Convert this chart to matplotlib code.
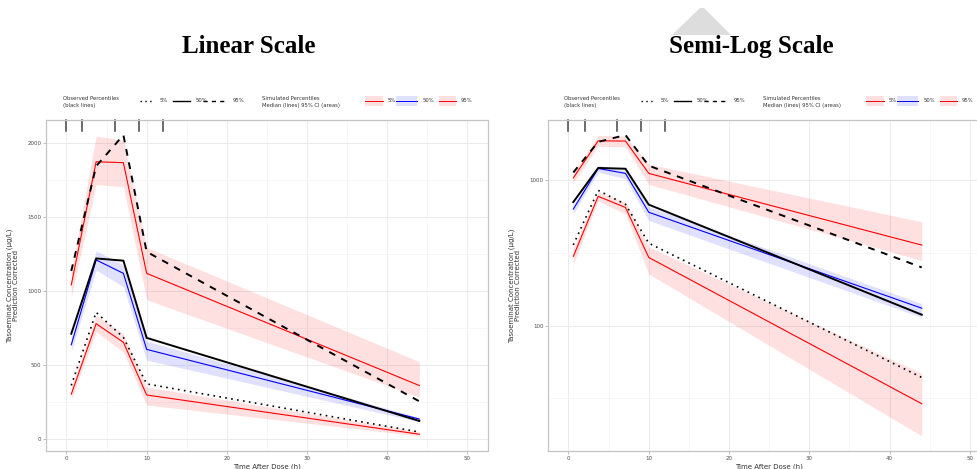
import numpy as np
import matplotlib
matplotlib.use("Agg")
import matplotlib.pyplot as plt
from matplotlib.lines import Line2D
from matplotlib.patches import Rectangle, Polygon
from matplotlib.ticker import MultipleLocator, FixedLocator, NullFormatter

# binned time points (h) and percentiles (ug/L)
time = [0.6, 3.7, 7.1, 10.0, 44.0]
bin_edges = [0, 2, 6, 9, 12]

obs_p05 = [360, 855, 685, 370, 44]
obs_p50 = [710, 1220, 1205, 682, 119]
obs_p95 = [1135, 1845, 2056, 1265, 252]

sim_p05 = [300, 778, 652, 295, 29]
sim_p05_lo = [265, 723, 587, 227, 17.4]
sim_p05_hi = [345, 836, 712, 349, 47]
sim_p50 = [635, 1210, 1119, 604, 132]
sim_p50_lo = [590, 1141, 1028, 531, 114]
sim_p50_hi = [680, 1272, 1175, 660, 142]
sim_p95 = [1040, 1875, 1869, 1119, 359]
sim_p95_lo = [960, 1720, 1706, 940, 281]
sim_p95_hi = [1125, 2048, 2022, 1295, 520]

lin_ticks = [0, 500, 1000, 1500, 2000]
log_ticks = [100, 1000]
x_ticks = [0, 10, 20, 30, 40, 50]

W, H = 978, 469
fig = plt.figure(figsize=(W / 100, H / 100), dpi=100)


def fx(x):
    return x / W


def fy(y):
    return 1 - y / H


GRID = "#EBEBEB"
FRAME = "#C4C4C4"
TXT = "#333333"


def draw_panel(ax, log=False):
    bands = [(sim_p05_lo, sim_p05_hi, "red"), (sim_p50_lo, sim_p50_hi, "blue"),
             (sim_p95_lo, sim_p95_hi, "red")]
    for lo, hi, c in bands:
        ax.fill_between(time, lo, hi, color=c, alpha=0.12, lw=0)
    ax.plot(time, sim_p05, color="red", lw=0.8)
    ax.plot(time, sim_p50, color="blue", lw=0.8)
    ax.plot(time, sim_p95, color="red", lw=0.8)
    ax.plot(time, obs_p05, color="black", lw=1.2, ls=(0, (1, 2.6)))
    ax.plot(time, obs_p50, color="black", lw=1.4)
    ax.plot(time, obs_p95, color="black", lw=1.4, ls=(0, (3.5, 3.5)))

    # rug of bin edges at the top
    trans = ax.get_xaxis_transform()
    for b in bin_edges:
        ax.plot([b, b], [1.0, 0.968], transform=trans, color="#444444", lw=1.1,
                clip_on=False)

    ax.set_xlim(-2.5, 52.5)
    lows = min(sim_p05_lo + obs_p05)
    highs = max(obs_p95 + sim_p95_hi)
    if log:
        ax.set_yscale("log")
        l0, l1 = np.log10(lows), np.log10(highs)
        pad = 0.05 * (l1 - l0)
        ax.set_ylim(10 ** (l0 - pad), 10 ** (l1 + pad))
        ax.yaxis.set_major_locator(FixedLocator(log_ticks))
        ax.yaxis.set_minor_locator(FixedLocator([10 ** 1.5, 10 ** 2.5, 10 ** 3.5]))
        ax.yaxis.set_minor_formatter(NullFormatter())
        ax.set_yticklabels([str(t) for t in log_ticks])
    else:
        pad = 0.05 * (highs - lows)
        ax.set_ylim(lows - pad, highs + pad)
        ax.yaxis.set_major_locator(FixedLocator(lin_ticks))
        ax.yaxis.set_minor_locator(MultipleLocator(250))
        ax.set_yticklabels([str(t) for t in lin_ticks])
    ax.xaxis.set_major_locator(FixedLocator(x_ticks))
    ax.xaxis.set_minor_locator(MultipleLocator(5))
    ax.set_xticklabels([str(t) for t in x_ticks])

    ax.grid(True, which="major", color=GRID, lw=0.7)
    ax.grid(True, which="minor", color="#F4F4F4", lw=0.5)
    ax.set_axisbelow(True)
    for s in ax.spines.values():
        s.set_color(FRAME)
        s.set_linewidth(0.9)
    ax.tick_params(which="major", length=2, width=0.6, color="#B3B3B3",
                   labelsize=4, labelcolor="#4D4D4D", pad=1.5)
    ax.tick_params(which="minor", length=0)
    ax.set_xlabel("Time After Dose (h)", fontsize=5, color=TXT, labelpad=2)
    ax.set_ylabel("Tasoeminat Concentration (\u00b5g/L)\nPrediction Corrected",
                  fontsize=5, color=TXT, labelpad=6, linespacing=1.1)


def draw_legend(x0, y0):
    # x0, y0 in pixels: left of "Observed Percentiles", baseline row
    kw = dict(fontsize=3.8, color=TXT, va="center", ha="left")
    fig.text(fx(x0), fy(y0 - 1.5), "Observed Percentiles", **kw)
    fig.text(fx(x0), fy(y0 + 6), "(black lines)", **kw)
    row = y0 + 1.5
    obs = [((0, (1, 2.5)), "5%", 77, 90, 97), ("-", "50%", 110, 127, 133),
           ((0, (3, 3)), "95%", 140, 164, 170)]
    for ls, lab, a, b, t in obs:
        fig.add_artist(Line2D([fx(x0 + a), fx(x0 + b)], [fy(row), fy(row)],
                              transform=fig.transFigure, color="black",
                              lw=1.0, ls=ls))
        fig.text(fx(x0 + t), fy(row), lab, **kw)
    fig.text(fx(x0 + 199), fy(y0 - 1.5), "Simulated Percentiles", **kw)
    fig.text(fx(x0 + 199), fy(y0 + 6), "Median (lines) 95% CI (areas)", **kw)
    sims = [("red", "5%", 302, 320, 325), ("blue", "50%", 333, 354, 360),
            ("red", "95%", 376, 393, 398)]
    for c, lab, a, b, t in sims:
        fig.add_artist(Rectangle((fx(x0 + a), fy(row + 5)), fx(b - a), 10 / H,
                                 transform=fig.transFigure, color=c,
                                 alpha=0.12, lw=0))
        fig.add_artist(Line2D([fx(x0 + a), fx(x0 + b)], [fy(row), fy(row)],
                              transform=fig.transFigure, color=c, lw=0.7))
        fig.text(fx(x0 + t), fy(row), lab, **kw)


# panel boxes in pixels: left, top, right, bottom
lin_box = (46.4, 120, 487.5, 451)
log_box = (548.4, 120, 990.0, 451)

ax1 = fig.add_axes([fx(lin_box[0]), fy(lin_box[3]), fx(lin_box[2] - lin_box[0]),
                    (lin_box[3] - lin_box[1]) / H])
draw_panel(ax1, log=False)
ax2 = fig.add_axes([fx(log_box[0]), fy(log_box[3]), fx(log_box[2] - log_box[0]),
                    (log_box[3] - log_box[1]) / H])
draw_panel(ax2, log=True)

draw_legend(62.7, 99.5)
draw_legend(564, 99.5)

title_kw = dict(fontsize=18, fontweight="bold", family="Liberation Serif",
                ha="center", va="center", color="black")
fig.text(fx(249), fy(46.5), "Linear Scale", **title_kw)
fig.text(fx(751), fy(46.5), "Semi-Log Scale", **title_kw)

# grey triangle overlay at the top
fig.add_artist(Polygon([(fx(672), fy(35)), (fx(700), fy(8)), (fx(704), fy(8)),
                        (fx(731), fy(35))], closed=True,
                       transform=fig.transFigure, color="#DDDDDD", lw=0))

fig.savefig("out.png", dpi=100)
